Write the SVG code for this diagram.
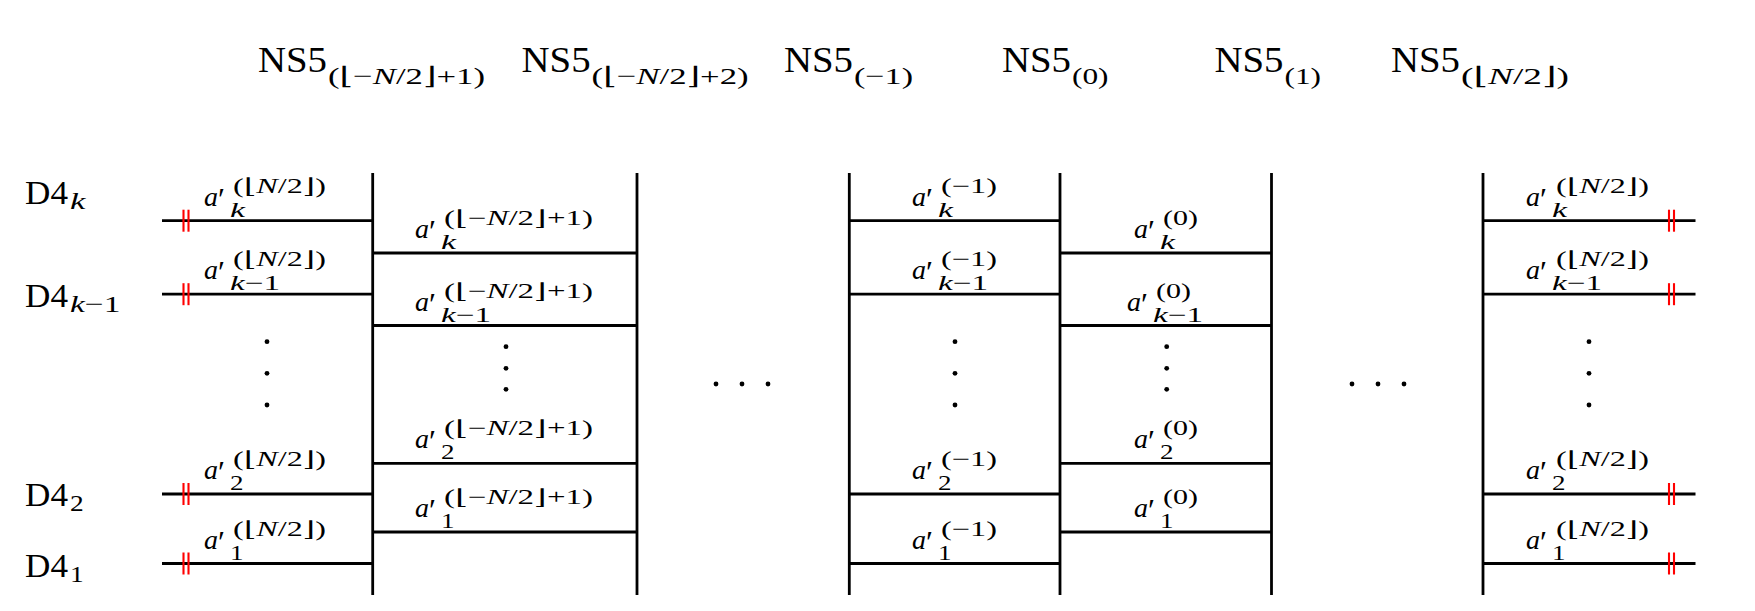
<svg xmlns="http://www.w3.org/2000/svg" width="1755" height="611" viewBox="0 0 1755 611">
<style>
.ln{stroke:#000;stroke-width:2.8;fill:none;stroke-linecap:butt}
.rd{stroke:#ff0000;stroke-width:2.1}
text{font-family:"Liberation Serif","DejaVu Serif",serif;fill:#000}
.big{font-size:35px}
.d4{font-size:33px}
.s{font-size:24px}
.av{font-size:28px;font-style:italic}
.pr{font-size:32px;font-style:normal}
.sc{font-size:21px}
.it{font-style:italic}
</style>
<rect width="1755" height="611" fill="#fff"/>

<!-- NS5 branes (vertical lines) with labels -->
<g id="ns5-1">
<line class="ln" x1="372.7" y1="173" x2="372.7" y2="595"/>
<text class="big" x="258" y="72" textLength="69" lengthAdjust="spacingAndGlyphs">NS5</text>
<text class="s" x="328" y="84" textLength="157" lengthAdjust="spacingAndGlyphs">(⌊−<tspan class="it">N</tspan>/2⌋+1)</text>
</g>
<g id="ns5-2">
<line class="ln" x1="637" y1="173" x2="637" y2="595"/>
<text class="big" x="521.6" y="72" textLength="69" lengthAdjust="spacingAndGlyphs">NS5</text>
<text class="s" x="591.6" y="84" textLength="157" lengthAdjust="spacingAndGlyphs">(⌊−<tspan class="it">N</tspan>/2⌋+2)</text>
</g>
<g id="ns5-m1">
<line class="ln" x1="849.3" y1="173" x2="849.3" y2="595"/>
<text class="big" x="784" y="72" textLength="69" lengthAdjust="spacingAndGlyphs">NS5</text>
<text class="s" x="854" y="84" textLength="59" lengthAdjust="spacingAndGlyphs">(−1)</text>
</g>
<g id="ns5-0">
<line class="ln" x1="1060" y1="173" x2="1060" y2="595"/>
<text class="big" x="1002" y="72" textLength="69" lengthAdjust="spacingAndGlyphs">NS5</text>
<text class="s" x="1072" y="84" textLength="36.5" lengthAdjust="spacingAndGlyphs">(0)</text>
</g>
<g id="ns5-p1">
<line class="ln" x1="1271.5" y1="173" x2="1271.5" y2="595"/>
<text class="big" x="1214.5" y="72" textLength="69" lengthAdjust="spacingAndGlyphs">NS5</text>
<text class="s" x="1284.5" y="84" textLength="36.5" lengthAdjust="spacingAndGlyphs">(1)</text>
</g>
<g id="ns5-last">
<line class="ln" x1="1483" y1="173" x2="1483" y2="595"/>
<text class="big" x="1391" y="72" textLength="69" lengthAdjust="spacingAndGlyphs">NS5</text>
<text class="s" x="1461" y="84" textLength="108" lengthAdjust="spacingAndGlyphs">(⌊<tspan class="it">N</tspan>/2⌋)</text>
</g>

<!-- D4 labels -->
<g id="d4-k">
<text class="d4" x="25" y="204" textLength="43" lengthAdjust="spacingAndGlyphs">D4</text>
<text class="s it" x="70" y="209" textLength="15.4" lengthAdjust="spacingAndGlyphs">k</text>
</g>
<g id="d4-km1">
<text class="d4" x="25" y="306.7" textLength="43" lengthAdjust="spacingAndGlyphs">D4</text>
<text class="s" x="70" y="311.7" textLength="50.5" lengthAdjust="spacingAndGlyphs"><tspan class="it">k</tspan>−1</text>
</g>
<g id="d4-2">
<text class="d4" x="25" y="506" textLength="43" lengthAdjust="spacingAndGlyphs">D4</text>
<text class="s" x="70" y="511" textLength="13.7" lengthAdjust="spacingAndGlyphs">2</text>
</g>
<g id="d4-1">
<text class="d4" x="25" y="577" textLength="43" lengthAdjust="spacingAndGlyphs">D4</text>
<text class="s" x="70" y="582" textLength="13.7" lengthAdjust="spacingAndGlyphs">1</text>
</g>

<!-- D4 segments -->
<g id="connectors">
<line class="ln" x1="162" y1="220.7" x2="372.7" y2="220.7"/>
<line class="ln" x1="162" y1="294.2" x2="372.7" y2="294.2"/>
<line class="ln" x1="162" y1="494" x2="372.7" y2="494"/>
<line class="ln" x1="162" y1="563.5" x2="372.7" y2="563.5"/>
<line class="ln" x1="372.7" y1="253" x2="637" y2="253"/>
<line class="ln" x1="372.7" y1="325.5" x2="637" y2="325.5"/>
<line class="ln" x1="372.7" y1="463.3" x2="637" y2="463.3"/>
<line class="ln" x1="372.7" y1="532" x2="637" y2="532"/>
<line class="ln" x1="849.3" y1="220.7" x2="1060" y2="220.7"/>
<line class="ln" x1="849.3" y1="294.2" x2="1060" y2="294.2"/>
<line class="ln" x1="849.3" y1="494" x2="1060" y2="494"/>
<line class="ln" x1="849.3" y1="563.5" x2="1060" y2="563.5"/>
<line class="ln" x1="1060" y1="253" x2="1271.5" y2="253"/>
<line class="ln" x1="1060" y1="325.5" x2="1271.5" y2="325.5"/>
<line class="ln" x1="1060" y1="463.3" x2="1271.5" y2="463.3"/>
<line class="ln" x1="1060" y1="532" x2="1271.5" y2="532"/>
<line class="ln" x1="1483" y1="220.7" x2="1695.5" y2="220.7"/>
<line class="ln" x1="1483" y1="294.2" x2="1695.5" y2="294.2"/>
<line class="ln" x1="1483" y1="494" x2="1695.5" y2="494"/>
<line class="ln" x1="1483" y1="563.5" x2="1695.5" y2="563.5"/>
</g>

<!-- red boundary marks -->
<g id="marks">
<line class="rd" x1="183.5" y1="209.7" x2="183.5" y2="231.7"/>
<line class="rd" x1="188.5" y1="209.7" x2="188.5" y2="231.7"/>
<line class="rd" x1="183.5" y1="283.2" x2="183.5" y2="305.2"/>
<line class="rd" x1="188.5" y1="283.2" x2="188.5" y2="305.2"/>
<line class="rd" x1="183.5" y1="483" x2="183.5" y2="505"/>
<line class="rd" x1="188.5" y1="483" x2="188.5" y2="505"/>
<line class="rd" x1="183.5" y1="552.5" x2="183.5" y2="574.5"/>
<line class="rd" x1="188.5" y1="552.5" x2="188.5" y2="574.5"/>
<line class="rd" x1="1669" y1="209.7" x2="1669" y2="231.7"/>
<line class="rd" x1="1674" y1="209.7" x2="1674" y2="231.7"/>
<line class="rd" x1="1669" y1="283.2" x2="1669" y2="305.2"/>
<line class="rd" x1="1674" y1="283.2" x2="1674" y2="305.2"/>
<line class="rd" x1="1669" y1="483" x2="1669" y2="505"/>
<line class="rd" x1="1674" y1="483" x2="1674" y2="505"/>
<line class="rd" x1="1669" y1="552.5" x2="1669" y2="574.5"/>
<line class="rd" x1="1674" y1="552.5" x2="1674" y2="574.5"/>
</g>

<!-- dots -->
<g id="dots" fill="#000">
<circle cx="267" cy="341.7" r="2.4"/><circle cx="267" cy="373.3" r="2.4"/><circle cx="267" cy="405" r="2.4"/>
<circle cx="506" cy="346.7" r="2.4"/><circle cx="506" cy="368.3" r="2.4"/><circle cx="506" cy="389.3" r="2.4"/>
<circle cx="955" cy="341.7" r="2.4"/><circle cx="955" cy="373.3" r="2.4"/><circle cx="955" cy="405" r="2.4"/>
<circle cx="1166.7" cy="346.7" r="2.4"/><circle cx="1166.7" cy="368.3" r="2.4"/><circle cx="1166.7" cy="389.3" r="2.4"/>
<circle cx="1589" cy="341.7" r="2.4"/><circle cx="1589" cy="373.3" r="2.4"/><circle cx="1589" cy="405" r="2.4"/>
<circle cx="716" cy="384" r="2.4"/><circle cx="742" cy="384" r="2.4"/><circle cx="768" cy="384" r="2.4"/>
<circle cx="1352" cy="384" r="2.4"/><circle cx="1378" cy="384" r="2.4"/><circle cx="1404" cy="384" r="2.4"/>
</g>

<!-- segment labels: column 1 -->
<g id="lab-c1-k">
<text x="204" y="205.7"><tspan class="av">a</tspan><tspan class="pr" dx="0" dy="4">′</tspan></text>
<text class="sc" x="233" y="192.7" textLength="93" lengthAdjust="spacingAndGlyphs">(⌊<tspan class="it">N</tspan>/2⌋)</text>
<text class="sc it" x="230" y="216.7" textLength="15" lengthAdjust="spacingAndGlyphs">k</text>
</g>
<g id="lab-c1-km1">
<text x="204" y="279.2"><tspan class="av">a</tspan><tspan class="pr" dx="0" dy="4">′</tspan></text>
<text class="sc" x="233" y="266.2" textLength="93" lengthAdjust="spacingAndGlyphs">(⌊<tspan class="it">N</tspan>/2⌋)</text>
<text class="sc" x="230" y="290.2" textLength="50" lengthAdjust="spacingAndGlyphs"><tspan class="it">k</tspan>−1</text>
</g>
<g id="lab-c1-2">
<text x="204" y="479"><tspan class="av">a</tspan><tspan class="pr" dx="0" dy="4">′</tspan></text>
<text class="sc" x="233" y="466" textLength="93" lengthAdjust="spacingAndGlyphs">(⌊<tspan class="it">N</tspan>/2⌋)</text>
<text class="sc" x="230" y="490" textLength="13.5" lengthAdjust="spacingAndGlyphs">2</text>
</g>
<g id="lab-c1-1">
<text x="204" y="548.5"><tspan class="av">a</tspan><tspan class="pr" dx="0" dy="4">′</tspan></text>
<text class="sc" x="233" y="535.5" textLength="93" lengthAdjust="spacingAndGlyphs">(⌊<tspan class="it">N</tspan>/2⌋)</text>
<text class="sc" x="230" y="559.5" textLength="13.5" lengthAdjust="spacingAndGlyphs">1</text>
</g>

<!-- column 2 -->
<g id="lab-c2-k">
<text x="415" y="238"><tspan class="av">a</tspan><tspan class="pr" dx="0" dy="4">′</tspan></text>
<text class="sc" x="444" y="225" textLength="149" lengthAdjust="spacingAndGlyphs">(⌊−<tspan class="it">N</tspan>/2⌋+1)</text>
<text class="sc it" x="441" y="249" textLength="15" lengthAdjust="spacingAndGlyphs">k</text>
</g>
<g id="lab-c2-km1">
<text x="415" y="310.5"><tspan class="av">a</tspan><tspan class="pr" dx="0" dy="4">′</tspan></text>
<text class="sc" x="444" y="297.5" textLength="149" lengthAdjust="spacingAndGlyphs">(⌊−<tspan class="it">N</tspan>/2⌋+1)</text>
<text class="sc" x="441" y="321.5" textLength="50" lengthAdjust="spacingAndGlyphs"><tspan class="it">k</tspan>−1</text>
</g>
<g id="lab-c2-2">
<text x="415" y="448.3"><tspan class="av">a</tspan><tspan class="pr" dx="0" dy="4">′</tspan></text>
<text class="sc" x="444" y="435.3" textLength="149" lengthAdjust="spacingAndGlyphs">(⌊−<tspan class="it">N</tspan>/2⌋+1)</text>
<text class="sc" x="441" y="459.3" textLength="13.5" lengthAdjust="spacingAndGlyphs">2</text>
</g>
<g id="lab-c2-1">
<text x="415" y="517"><tspan class="av">a</tspan><tspan class="pr" dx="0" dy="4">′</tspan></text>
<text class="sc" x="444" y="504" textLength="149" lengthAdjust="spacingAndGlyphs">(⌊−<tspan class="it">N</tspan>/2⌋+1)</text>
<text class="sc" x="441" y="528" textLength="13.5" lengthAdjust="spacingAndGlyphs">1</text>
</g>

<!-- column 3 -->
<g id="lab-c3-k">
<text x="912" y="205.7"><tspan class="av">a</tspan><tspan class="pr" dx="0" dy="4">′</tspan></text>
<text class="sc" x="941" y="192.7" textLength="56" lengthAdjust="spacingAndGlyphs">(−1)</text>
<text class="sc it" x="938" y="216.7" textLength="15" lengthAdjust="spacingAndGlyphs">k</text>
</g>
<g id="lab-c3-km1">
<text x="912" y="279.2"><tspan class="av">a</tspan><tspan class="pr" dx="0" dy="4">′</tspan></text>
<text class="sc" x="941" y="266.2" textLength="56" lengthAdjust="spacingAndGlyphs">(−1)</text>
<text class="sc" x="938" y="290.2" textLength="50" lengthAdjust="spacingAndGlyphs"><tspan class="it">k</tspan>−1</text>
</g>
<g id="lab-c3-2">
<text x="912" y="479"><tspan class="av">a</tspan><tspan class="pr" dx="0" dy="4">′</tspan></text>
<text class="sc" x="941" y="466" textLength="56" lengthAdjust="spacingAndGlyphs">(−1)</text>
<text class="sc" x="938" y="490" textLength="13.5" lengthAdjust="spacingAndGlyphs">2</text>
</g>
<g id="lab-c3-1">
<text x="912" y="548.5"><tspan class="av">a</tspan><tspan class="pr" dx="0" dy="4">′</tspan></text>
<text class="sc" x="941" y="535.5" textLength="56" lengthAdjust="spacingAndGlyphs">(−1)</text>
<text class="sc" x="938" y="559.5" textLength="13.5" lengthAdjust="spacingAndGlyphs">1</text>
</g>

<!-- column 4 -->
<g id="lab-c4-k">
<text x="1134" y="238"><tspan class="av">a</tspan><tspan class="pr" dx="0" dy="4">′</tspan></text>
<text class="sc" x="1163" y="225" textLength="35" lengthAdjust="spacingAndGlyphs">(0)</text>
<text class="sc it" x="1160" y="249" textLength="15" lengthAdjust="spacingAndGlyphs">k</text>
</g>
<g id="lab-c4-km1">
<text x="1127" y="310.5"><tspan class="av">a</tspan><tspan class="pr" dx="0" dy="4">′</tspan></text>
<text class="sc" x="1156" y="297.5" textLength="35" lengthAdjust="spacingAndGlyphs">(0)</text>
<text class="sc" x="1153" y="321.5" textLength="50" lengthAdjust="spacingAndGlyphs"><tspan class="it">k</tspan>−1</text>
</g>
<g id="lab-c4-2">
<text x="1134" y="448.3"><tspan class="av">a</tspan><tspan class="pr" dx="0" dy="4">′</tspan></text>
<text class="sc" x="1163" y="435.3" textLength="35" lengthAdjust="spacingAndGlyphs">(0)</text>
<text class="sc" x="1160" y="459.3" textLength="13.5" lengthAdjust="spacingAndGlyphs">2</text>
</g>
<g id="lab-c4-1">
<text x="1134" y="517"><tspan class="av">a</tspan><tspan class="pr" dx="0" dy="4">′</tspan></text>
<text class="sc" x="1163" y="504" textLength="35" lengthAdjust="spacingAndGlyphs">(0)</text>
<text class="sc" x="1160" y="528" textLength="13.5" lengthAdjust="spacingAndGlyphs">1</text>
</g>

<!-- column 5 -->
<g id="lab-c5-k">
<text x="1526" y="205.7"><tspan class="av">a</tspan><tspan class="pr" dx="0" dy="4">′</tspan></text>
<text class="sc" x="1556" y="192.7" textLength="93" lengthAdjust="spacingAndGlyphs">(⌊<tspan class="it">N</tspan>/2⌋)</text>
<text class="sc it" x="1552" y="216.7" textLength="15" lengthAdjust="spacingAndGlyphs">k</text>
</g>
<g id="lab-c5-km1">
<text x="1526" y="279.2"><tspan class="av">a</tspan><tspan class="pr" dx="0" dy="4">′</tspan></text>
<text class="sc" x="1556" y="266.2" textLength="93" lengthAdjust="spacingAndGlyphs">(⌊<tspan class="it">N</tspan>/2⌋)</text>
<text class="sc" x="1552" y="290.2" textLength="50" lengthAdjust="spacingAndGlyphs"><tspan class="it">k</tspan>−1</text>
</g>
<g id="lab-c5-2">
<text x="1526" y="479"><tspan class="av">a</tspan><tspan class="pr" dx="0" dy="4">′</tspan></text>
<text class="sc" x="1556" y="466" textLength="93" lengthAdjust="spacingAndGlyphs">(⌊<tspan class="it">N</tspan>/2⌋)</text>
<text class="sc" x="1552" y="490" textLength="13.5" lengthAdjust="spacingAndGlyphs">2</text>
</g>
<g id="lab-c5-1">
<text x="1526" y="548.5"><tspan class="av">a</tspan><tspan class="pr" dx="0" dy="4">′</tspan></text>
<text class="sc" x="1556" y="535.5" textLength="93" lengthAdjust="spacingAndGlyphs">(⌊<tspan class="it">N</tspan>/2⌋)</text>
<text class="sc" x="1552" y="559.5" textLength="13.5" lengthAdjust="spacingAndGlyphs">1</text>
</g>
</svg>
